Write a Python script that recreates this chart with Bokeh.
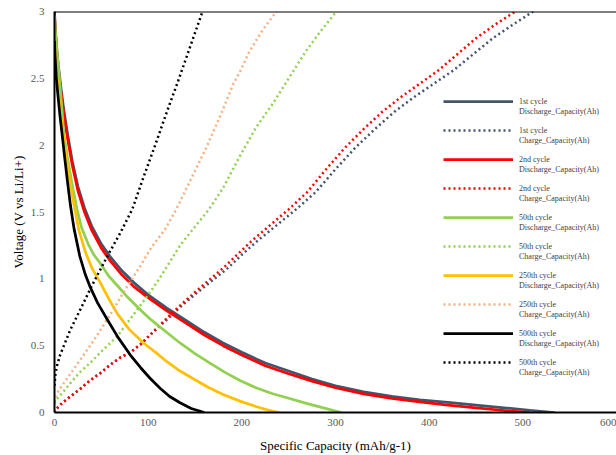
from bokeh.plotting import figure
from bokeh.models import Legend, LegendItem, NumeralTickFormatter, Range1d, FixedTicker, Span
from bokeh.embed import file_html
from bokeh.resources import INLINE

# ---- data (specific capacity mAh/g, voltage V) ----
c1_dis_x = [0, 0.5, 2, 4, 7, 10, 14, 19, 25, 32, 40, 50, 60, 72, 85, 100, 120, 140, 160, 180, 200, 225, 250, 275, 300, 330, 360, 390, 420, 450, 480, 510, 534]
c1_dis_y = [3.0, 2.92, 2.75, 2.6, 2.42, 2.26, 2.08, 1.88, 1.69, 1.53, 1.39, 1.26, 1.16, 1.06, 0.97, 0.88, 0.78, 0.69, 0.60, 0.52, 0.45, 0.37, 0.31, 0.25, 0.20, 0.155, 0.12, 0.095, 0.075, 0.055, 0.035, 0.015, 0.0]

c2_dis_x = [0, 0.5, 2, 4, 7, 10, 14, 19, 25, 32, 40, 50, 60, 72, 85, 100, 120, 140, 160, 180, 200, 225, 250, 275, 300, 330, 360, 390, 420, 450, 480, 508]
c2_dis_y = [2.97, 2.9, 2.73, 2.57, 2.39, 2.23, 2.05, 1.85, 1.66, 1.50, 1.36, 1.23, 1.13, 1.03, 0.94, 0.86, 0.76, 0.67, 0.58, 0.50, 0.43, 0.35, 0.29, 0.235, 0.185, 0.14, 0.105, 0.08, 0.055, 0.035, 0.015, 0.0]

c50_dis_x = [0, 0.5, 2, 4, 7, 10, 14, 19, 24, 29, 36, 42, 49, 58, 67, 77, 90, 102, 118, 134, 150, 166, 182, 198, 215, 233, 251, 268, 286, 306]
c50_dis_y = [2.97, 2.9, 2.75, 2.6, 2.35, 2.08, 1.9, 1.7, 1.52, 1.38, 1.26, 1.18, 1.115, 1.02, 0.95, 0.87, 0.78, 0.70, 0.61, 0.52, 0.44, 0.37, 0.30, 0.24, 0.185, 0.14, 0.105, 0.07, 0.036, 0.0]

c250_dis_x = [0, 0.5, 2, 4, 7, 10, 14, 19, 26, 33, 40, 49, 58, 67, 80, 95, 108, 120, 134, 150, 165, 180, 198, 215, 228, 240]
c250_dis_y = [2.78, 2.7, 2.55, 2.4, 2.2, 2.04, 1.84, 1.62, 1.365, 1.2, 1.08, 0.97, 0.85, 0.74, 0.62, 0.52, 0.45, 0.38, 0.31, 0.245, 0.185, 0.135, 0.085, 0.045, 0.018, 0.0]

c500_dis_x = [0, 0.5, 2, 4, 6, 8, 11, 14, 17, 21, 27, 33, 38, 46, 56, 68, 81, 92, 102, 113, 123, 134, 146, 160]
c500_dis_y = [2.78, 2.68, 2.5, 2.35, 2.21, 2.09, 1.9, 1.72, 1.55, 1.37, 1.17, 1.03, 0.94, 0.82, 0.70, 0.56, 0.43, 0.335, 0.256, 0.18, 0.12, 0.073, 0.03, 0.0]

c1_chg_x = [0, 1, 8, 17, 28, 38, 50, 60, 70, 81, 92, 102, 113, 124, 136, 153, 169, 185, 200, 216, 237, 258, 279, 300, 321, 342, 363, 384, 405, 426, 447, 468, 489, 511]
c1_chg_y = [0.0, 0.02, 0.07, 0.12, 0.18, 0.24, 0.30, 0.36, 0.41, 0.45, 0.51, 0.58, 0.65, 0.72, 0.80, 0.90, 0.99, 1.08, 1.18, 1.28, 1.40, 1.52, 1.65, 1.82, 1.98, 2.12, 2.25, 2.36, 2.46, 2.56, 2.68, 2.80, 2.90, 3.0]

c2_chg_x = [0, 1, 8, 17, 28, 38, 50, 60, 70, 81, 92, 102, 112, 122, 134, 150, 165, 180, 195, 210, 230, 250, 270, 290, 310, 330, 350, 370, 390, 410, 430, 450, 470, 492]
c2_chg_y = [0.0, 0.02, 0.07, 0.12, 0.18, 0.24, 0.30, 0.36, 0.41, 0.45, 0.51, 0.58, 0.65, 0.72, 0.80, 0.90, 0.99, 1.08, 1.18, 1.28, 1.40, 1.52, 1.65, 1.82, 1.98, 2.12, 2.25, 2.36, 2.46, 2.56, 2.68, 2.80, 2.90, 3.0]

c50_chg_x = [0, 1, 5, 10, 17, 27, 38, 52, 67, 82, 99, 110, 120, 134, 150, 165, 180, 198, 215, 233, 251, 269, 285, 301]
c50_chg_y = [0.07, 0.09, 0.12, 0.16, 0.22, 0.30, 0.37, 0.47, 0.57, 0.71, 0.87, 0.98, 1.09, 1.25, 1.39, 1.52, 1.68, 1.92, 2.13, 2.31, 2.51, 2.71, 2.86, 3.0]

c250_chg_x = [0, 1, 5, 10, 17, 25, 33, 42, 52, 62, 72, 81, 92, 102, 118, 130, 146, 162, 177, 191, 198, 208, 222, 237]
c250_chg_y = [0.08, 0.12, 0.17, 0.22, 0.29, 0.37, 0.45, 0.54, 0.65, 0.76, 0.88, 0.98, 1.10, 1.22, 1.37, 1.52, 1.75, 1.98, 2.22, 2.46, 2.55, 2.70, 2.86, 3.0]

c500_chg_x = [0, 1, 3, 6, 10, 17, 24, 31, 40, 49, 58, 70, 83, 95, 108, 120, 132, 145, 158]
c500_chg_y = [0.2, 0.29, 0.36, 0.43, 0.5, 0.62, 0.72, 0.82, 0.95, 1.07, 1.19, 1.34, 1.52, 1.76, 2.01, 2.25, 2.48, 2.74, 3.0]

x_ticks = [0, 100, 200, 300, 400, 500, 600]
y_ticks = [0, 0.5, 1, 1.5, 2, 2.5, 3]

cycle_names = ["1st cycle", "2nd cycle", "50th cycle", "250th cycle", "500th cycle"]
kind_names = ["Discharge_Capacity(Ah)", "Charge_Capacity(Ah)"]

series = [
    (c1_dis_x, c1_dis_y, "#44546A", False),
    (c1_chg_x, c1_chg_y, "#44546A", True),
    (c2_dis_x, c2_dis_y, "#FF0000", False),
    (c2_chg_x, c2_chg_y, "#FF0000", True),
    (c50_dis_x, c50_dis_y, "#92D050", False),
    (c50_chg_x, c50_chg_y, "#92D050", True),
    (c250_dis_x, c250_dis_y, "#FFC000", False),
    (c250_chg_x, c250_chg_y, "#F4B183", True),
    (c500_dis_x, c500_dis_y, "#000000", False),
    (c500_chg_x, c500_chg_y, "#000000", True),
]
first_lines = [c for c in cycle_names for k in kind_names]
second_lines = [k for c in cycle_names for k in kind_names]

FONT = "Liberation Serif"

p = figure(width=616, height=455, x_range=Range1d(0, 600), y_range=Range1d(0, 3),
           output_backend="svg", toolbar_location=None,
           min_border_left=54, min_border_right=0, min_border_top=11, min_border_bottom=43)
p.outline_line_color = None
p.grid.visible = False
p.background_fill_color = "white"
p.border_fill_color = "white"

items_a, items_b = [], []
for (xs, ys, col, dotted), l1, l2 in zip(series, first_lines, second_lines):
    if dotted:
        r = p.line(xs, ys, line_color=col, line_width=2.5, line_dash="2 3")
    else:
        r = p.line(xs, ys, line_color=col, line_width=2.75, line_join="round")
    items_a.append(LegendItem(label=l1, renderers=[r]))
    items_b.append(LegendItem(label=l2, renderers=[r]))

p.add_layout(Span(location=3, dimension="width", line_color="black", line_width=2))

for ax in (p.xaxis[0], p.yaxis[0]):
    ax.axis_line_color = "black"
    ax.axis_line_width = 2
    ax.major_tick_out = 0
    ax.major_tick_in = 0
    ax.minor_tick_out = 0
    ax.minor_tick_in = 0
    ax.major_label_text_font = FONT
    ax.major_label_text_font_size = "11px"
    ax.major_label_text_color = "#595959"
    ax.axis_label_text_font = FONT
    ax.axis_label_text_font_size = "13px"
    ax.axis_label_text_font_style = "normal"
    ax.axis_label_text_color = "black"

p.xaxis[0].ticker = FixedTicker(ticks=x_ticks)
p.yaxis[0].ticker = FixedTicker(ticks=y_ticks)
p.yaxis[0].formatter = NumeralTickFormatter(format="0.[0]")
p.xaxis[0].axis_label = "Specific Capacity (mAh/g-1)"
p.yaxis[0].axis_label = "Voltage (V vs Li/Li+)"
p.xaxis[0].major_label_standoff = 6
p.xaxis[0].axis_label_standoff = 9
p.yaxis[0].major_label_standoff = 10
p.yaxis[0].axis_label_standoff = 2

common = dict(orientation="vertical", glyph_height=10, spacing=19,
              padding=0, margin=0, border_line_alpha=0, background_fill_alpha=0,
              label_text_font=FONT, label_text_font_size="8px",
              label_text_color="#404040", label_height=10, label_width=92)
legend_a = Legend(items=items_a, location=(389, 45), glyph_width=70, label_standoff=6, **common)
legend_b = Legend(items=items_b, location=(465, 35), glyph_width=0, label_standoff=0, **common)
p.add_layout(legend_a, "center")
p.add_layout(legend_b, "center")

open("out.html", "w").write(file_html(p, INLINE))
